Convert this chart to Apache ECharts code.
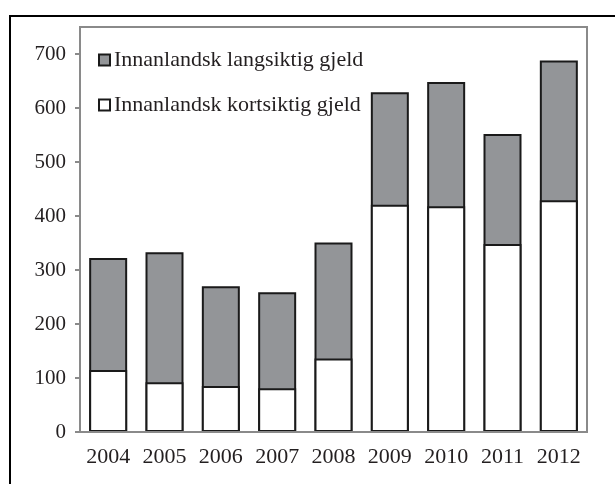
<!DOCTYPE html>
<html>
<head>
<meta charset="utf-8">
<script src="https://cdn.jsdelivr.net/npm/echarts@6/dist/echarts.min.js"></script>
<style>
  html, body { margin: 0; padding: 0; background: #fff; }
  #chart { width: 615px; height: 484px; }
</style>
</head>
<body>
<div id="chart"></div>
<script>
// år og verdier lest av figuren
var years = ['2004', '2005', '2006', '2007', '2008', '2009', '2010', '2011', '2012'];
var kortsiktig = [115, 92, 85, 81, 136, 421, 418, 348, 429];
var langsiktig = [207, 241, 185, 178, 215, 208, 230, 204, 259];
var yTicks = [0, 100, 200, 300, 400, 500, 600, 700];

var navnLang = 'Innanlandsk langsiktig gjeld';
var navnKort = 'Innanlandsk kortsiktig gjeld';

var font = 'Liberation Serif, Times New Roman, serif';
var textColor = '#231f20';
var axisGray = '#8a8a8a';

// grå søyle tegnes fra 0 til sum, hvit legges oppå => én skillelinje
var totalt = kortsiktig.map(function (v, i) { return v + langsiktig[i]; });

var myChart = echarts.init(document.getElementById('chart'));

var option = {
    animation: false,
    backgroundColor: '#fff',
    graphic: [{
        // svart ramme rundt figuren
        type: 'rect',
        silent: true,
        shape: { x: 10, y: 16, width: 700, height: 600 },
        style: { fill: 'none', stroke: '#000', lineWidth: 2 }
    }],
    grid: {
        left: 80,
        right: 28,
        top: 27,
        bottom: 52,
        show: true,
        borderColor: axisGray,
        borderWidth: 2,
        backgroundColor: 'transparent'
    },
    legend: {
        data: [navnLang, navnKort],
        orient: 'vertical',
        left: 93,
        top: 44,
        itemWidth: 11,
        itemHeight: 11,
        itemGap: 23,
        icon: 'rect',
        textStyle: {
            fontFamily: font,
            fontSize: 22,
            lineHeight: 22,
            color: textColor,
            padding: [0, 0, 0, -1]
        }
    },
    xAxis: {
        type: 'category',
        data: years,
        z: 5,
        axisLine: { lineStyle: { color: axisGray, width: 2 } },
        axisTick: {
            interval: 4,
            length: 5,
            lineStyle: { color: axisGray, width: 2 }
        },
        axisLabel: {
            interval: 0,
            hideOverlap: false,
            margin: 14,
            fontFamily: font,
            fontSize: 22,
            color: textColor
        }
    },
    yAxis: {
        type: 'value',
        min: 0,
        max: 750,
        interval: 50,
        splitLine: { show: false },
        axisLine: { show: true, lineStyle: { color: axisGray, width: 2 } },
        axisTick: {
            show: true,
            length: 5,
            customValues: yTicks,
            lineStyle: { color: axisGray, width: 2 }
        },
        axisLabel: {
            margin: 14,
            customValues: yTicks,
            fontFamily: font,
            fontSize: 21,
            color: textColor
        }
    },
    series: [{
        name: navnLang,
        type: 'bar',
        data: totalt,
        barWidth: 38,
        itemStyle: { color: '#939598', borderColor: '#1a1a1a', borderWidth: 2 }
    }, {
        name: navnKort,
        type: 'bar',
        data: kortsiktig,
        barWidth: 38,
        barGap: '-100%',
        itemStyle: { color: '#ffffff', borderColor: '#1a1a1a', borderWidth: 2 }
    }]
};

myChart.setOption(option);
</script>
</body>
</html>
